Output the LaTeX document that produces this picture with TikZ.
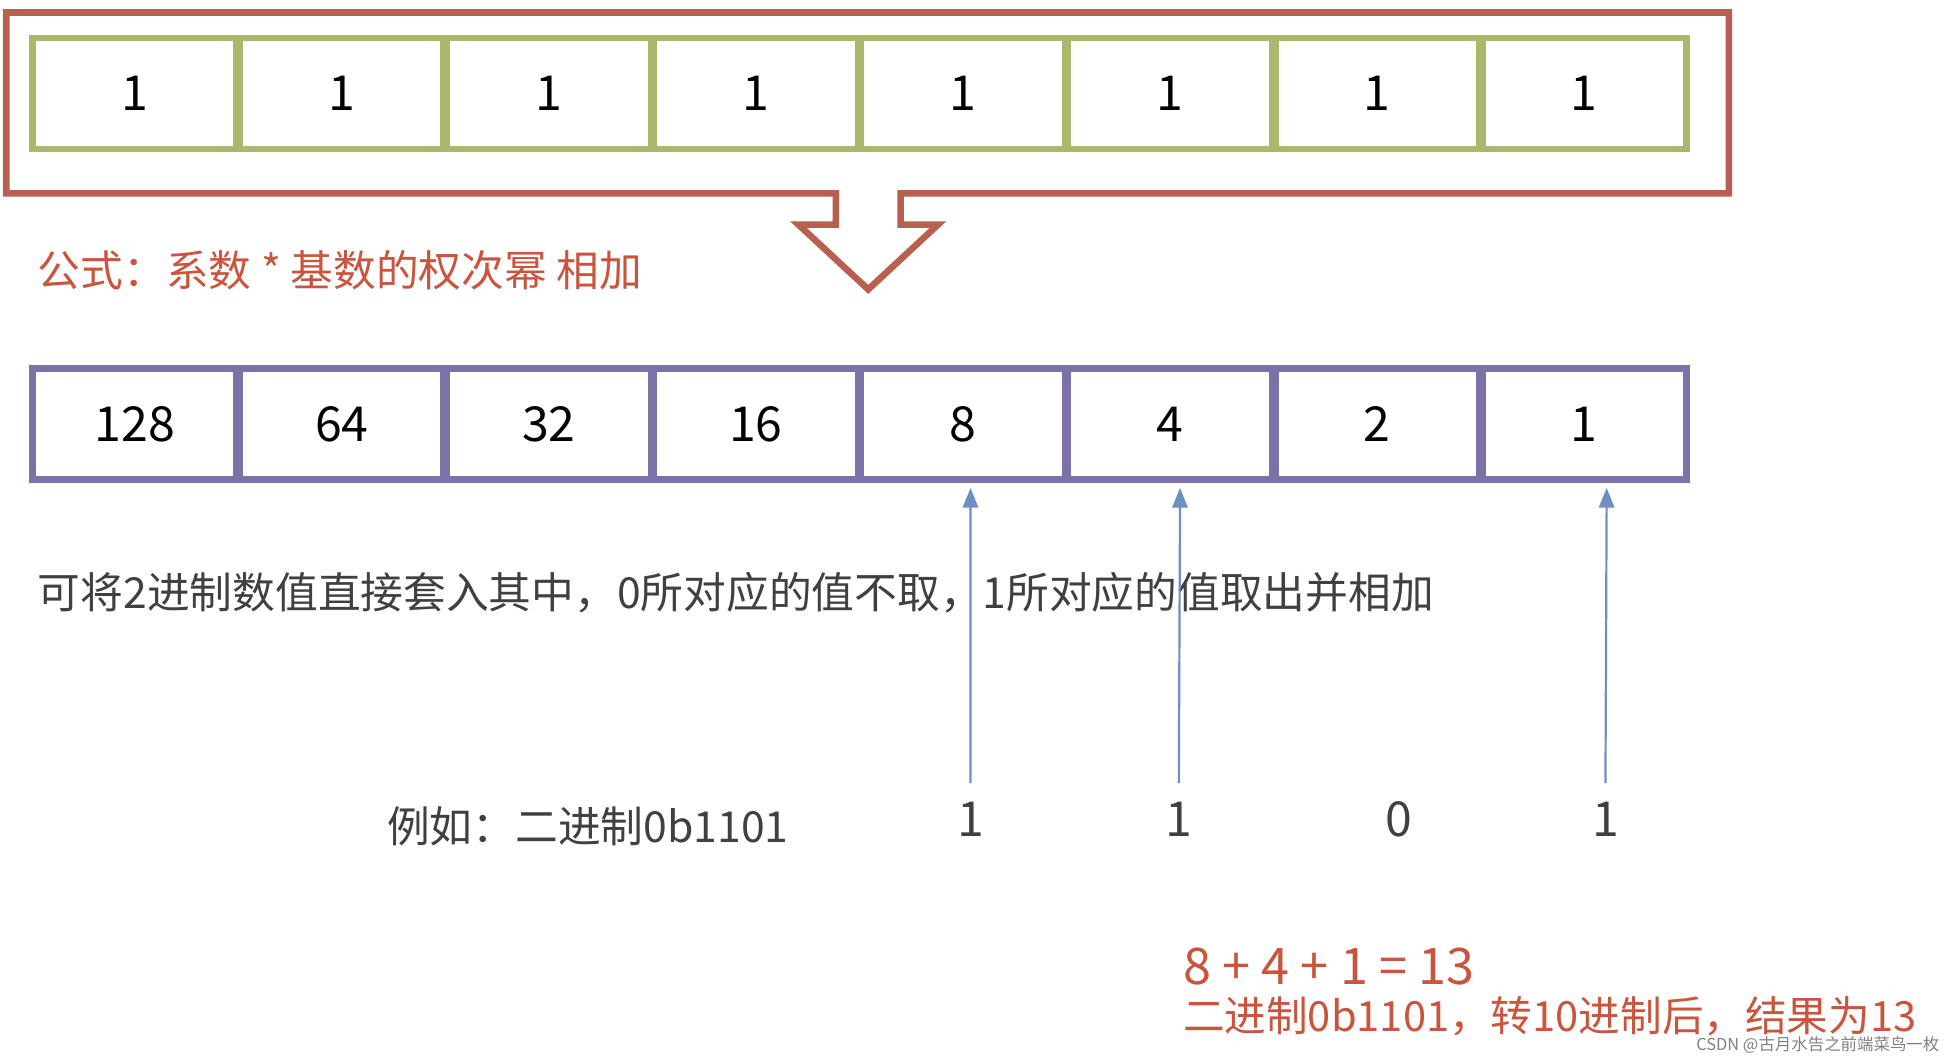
\documentclass[tikz,border=0pt]{standalone}
\usepackage{fontspec}
\setmainfont{Noto Sans CJK SC}
\usetikzlibrary{arrows.meta}
\definecolor{framered}{HTML}{B8604F}
\definecolor{cellgreen}{HTML}{A9B86A}
\definecolor{cellpurple}{HTML}{7D72A8}
\definecolor{textred}{HTML}{C9553E}
\definecolor{arrowblue}{HTML}{6F8FC0}
\definecolor{textgray}{HTML}{404040}
\tikzset{
    bitcell/.style={rectangle,draw=cellgreen,line width=3pt,minimum width=3.27cm,minimum height=1.78cm,inner sep=0pt,font=\fontsize{22}{26}\selectfont},
    weightcell/.style={bitcell,draw=cellpurple},
    note/.style={inner sep=0pt,font=\fontsize{19.5}{23}\selectfont,text=textgray},
    rednote/.style={note,text=textred},
    bit/.style={inner sep=0pt,font=\fontsize{22}{26}\selectfont,text=textgray},
    pointer/.style={draw=arrowblue,line width=1pt,arrows={-Triangle[length=9pt,width=7pt]}},
    }
\begin{document}
\begin{tikzpicture}[x=0.02cm,y=-0.02cm]
    \useasboundingbox (0,0) rectangle (1560,850);
    % frame with arrow
    \draw[framered,line width=3pt,line join=miter]
        (5,10) -- (1386,10) -- (1386,155) -- (722,155) -- (722,180) -- (752,180)
        -- (696,232) -- (640,180) -- (670,180) -- (670,155) -- (5,155) -- cycle;
    % rows of cells
    \foreach \w [count=\i] in {128,64,32,16,8,4,2,1} {
        \node[bitcell] (b\i) at ({25+166*(\i-1)+83},75) {1};
        \node[weightcell] (w\i) at ({25+166*(\i-1)+83},340) {\w};
    }
    \node[rednote,anchor=west] (formula) at (30,217) {公式：系数 * 基数的权次幂 相加};
    \node[note,anchor=west] (rule) at (30,475) {可将2进制数值直接套入其中，0所对应的值不取，1所对应的值取出并相加};
    \node[note,anchor=west] (example) at (310,662) {例如：二进制0b1101};
    \node[bit] (d5) at (778,657) {1};
    \node[bit] (d6) at (945,657) {1};
    \node[bit] (d7) at (1121,657) {0};
    \node[bit] (d8) at (1287,657) {1};
    \draw[pointer] ([yshift=0.3cm]d5.north) -- ([xshift=0.12cm,yshift=-0.08cm]w5.south);
    \draw[pointer] ([yshift=0.3cm]d6.north) -- ([xshift=0.16cm,yshift=-0.08cm]w6.south);
    \draw[pointer] ([yshift=0.3cm]d8.north) -- ([xshift=0.36cm,yshift=-0.08cm]w8.south);
    \node[rednote,anchor=west,font=\fontsize{23}{26}\selectfont] (sum) at (948,775) {8 + 4 + 1 = 13};
    \node[rednote,anchor=west,font=\fontsize{19}{22}\selectfont] (result) at (948,815) {二进制0b1101，转10进制后，结果为13};
    \node[note,anchor=east,font=\fontsize{7.5}{9}\selectfont,text=gray] (mark) at (1555,838) {CSDN @古月水告之前端菜鸟一枚};
\end{tikzpicture}
\end{document}
